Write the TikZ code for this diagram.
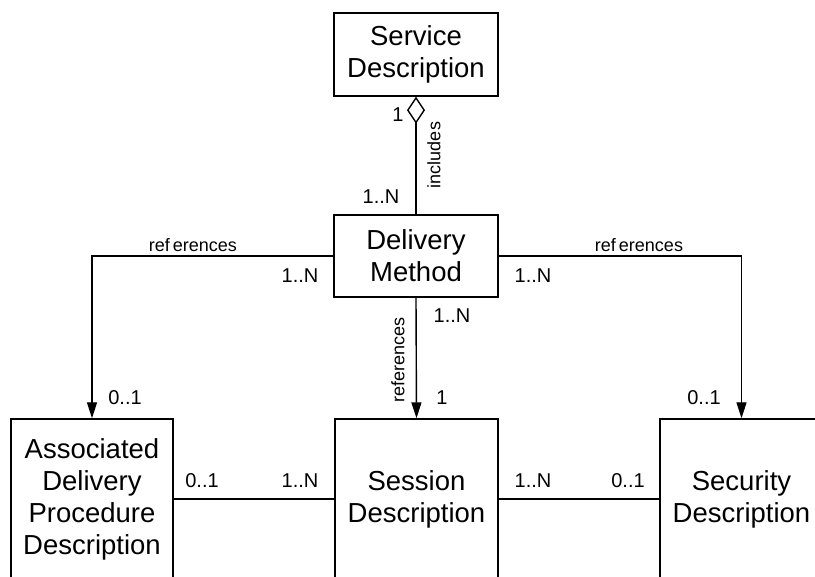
\documentclass[tikz,border=0pt]{standalone}
\usepackage{fontspec}
\setmainfont{Liberation Sans}
\usetikzlibrary{arrows.meta}
\begin{document}
\begin{tikzpicture}[x=1pt,y=-1pt,
  box/.style={draw,line width=1.4pt,align=center,inner sep=0pt,
    font=\fontsize{27.5}{32}\selectfont},
  conn/.style={line width=1.4pt},
  arr/.style={conn,-{Triangle[length=16pt,width=10pt]}},
  mult/.style={font=\fontsize{20}{24}\selectfont,anchor=base,inner sep=0pt},
  lbl/.style={font=\fontsize{18}{22}\selectfont,inner sep=0pt}]
\useasboundingbox (0,0) rectangle (815,577);
\clip (0,0) rectangle (815,577);
\node[box,minimum width=164pt,minimum height=83pt] (svc) at (416,54.5) {Service\\Description};
\node[box,minimum width=164pt,minimum height=82pt] (dm) at (416,256) {Delivery\\Method};
\node[box,minimum width=162pt,minimum height=160pt] (adp) at (92,499) {Associated\\Delivery\\Procedure\\Description};
\node[box,minimum width=163pt,minimum height=160pt] (ses) at (416.5,499) {Session\\Description};
\node[box,minimum width=163pt,minimum height=160pt] (sec) at (741.5,499) {Security\\Description};

\draw[conn,{Diamond[open,length=27pt,width=18pt,line width=1.4pt]}-] (svc.south) -- (dm.north);
\draw[arr] (dm.west) -| (adp.north);
\draw[arr] (dm.east) -| (sec.north);
\draw[arr] (dm.south) -- (ses.north);
\draw[conn] (adp.east) -- (ses.west);
\draw[conn] (ses.east) -- (sec.west);

\node[mult] (m1) at (398,122) {1};
\node[lbl,rotate=90] (inc) at (434,155) {includes};
\node[mult] (m2) at (381,204) {1..N};
\node[lbl,anchor=base] (r1) at (193,252) {ref\hspace{3pt}erences};
\node[mult] (m3) at (300,283) {1..N};
\node[lbl,anchor=base] (r2) at (639,252) {ref\hspace{3pt}erences};
\node[mult] (m4) at (533,283) {1..N};
\node[mult] (m5) at (452,323) {1..N};
\node[lbl,rotate=90] (r3) at (398,360) {references};
\node[mult] (m6) at (442,405) {1};
\node[mult] (m7) at (125,405) {0..1};
\node[mult] (m8) at (704,405) {0..1};
\node[mult] (m9) at (202,488) {0..1};
\node[mult] (m10) at (300,488) {1..N};
\node[mult] (m11) at (533,488) {1..N};
\node[mult] (m12) at (628,488) {0..1};
\end{tikzpicture}
\end{document}
